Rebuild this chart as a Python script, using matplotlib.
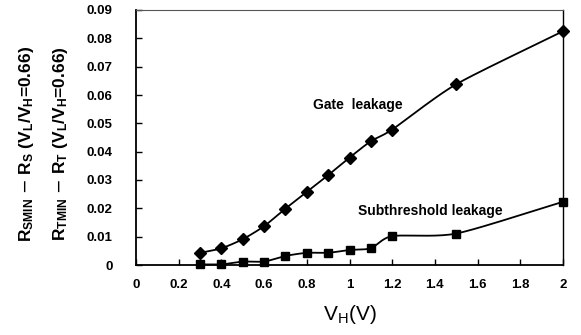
import numpy as np
import matplotlib
matplotlib.use("Agg")
import matplotlib.pyplot as plt

vh = [0.3, 0.4, 0.5, 0.6, 0.7, 0.8, 0.9, 1.0, 1.1, 1.2, 1.5, 2.0]
gate = [0.0043, 0.0059, 0.0091, 0.0137, 0.0199, 0.0258, 0.0317, 0.0379, 0.0437, 0.0478, 0.0638, 0.0825]
sub = [0.0002, 0.0002, 0.0012, 0.0012, 0.0032, 0.0043, 0.0043, 0.0053, 0.0059, 0.0102, 0.0111, 0.0223]
xticks = [0, 0.2, 0.4, 0.6, 0.8, 1, 1.2, 1.4, 1.6, 1.8, 2]
xticklabels = ["0", "0.2", "0.4", "0.6", "0.8", "1", "1.2", "1.4", "1.6", "1.8", "2"]
yticks = [0, 0.01, 0.02, 0.03, 0.04, 0.05, 0.06, 0.07, 0.08, 0.09]
yticklabels = ["0", "0.01", "0.02", "0.03", "0.04", "0.05", "0.06", "0.07", "0.08", "0.09"]

plt.rcParams["font.family"] = ["Liberation Sans", "DejaVu Sans"]


def smooth(x, y, n=20, s=0.12):
    # Bezier smoothing through points (like Excel smoothed lines)
    x = np.asarray(x, float); y = np.asarray(y, float)
    px = np.concatenate([[2 * x[0] - x[1]], x, [2 * x[-1] - x[-2]]])
    py = np.concatenate([[2 * y[0] - y[1]], y, [2 * y[-1] - y[-2]]])
    xs, ys = [], []
    t = np.linspace(0, 1, n, endpoint=False)
    for i in range(1, len(px) - 2):
        p0x, p1x, p2x, p3x = px[i - 1:i + 3]
        p0y, p1y, p2y, p3y = py[i - 1:i + 3]
        c1x = p1x + (p2x - p0x) * s; c1y = p1y + (p2y - p0y) * s
        c2x = p2x - (p3x - p1x) * s; c2y = p2y - (p3y - p1y) * s
        bx = (1 - t) ** 3 * p1x + 3 * (1 - t) ** 2 * t * c1x + 3 * (1 - t) * t ** 2 * c2x + t ** 3 * p2x
        by = (1 - t) ** 3 * p1y + 3 * (1 - t) ** 2 * t * c1y + 3 * (1 - t) * t ** 2 * c2y + t ** 3 * p2y
        xs.extend(bx); ys.extend(by)
    xs.append(x[-1]); ys.append(y[-1])
    return np.array(xs), np.array(ys)


fig = plt.figure(figsize=(5.81, 3.35), dpi=100)
ax = fig.add_axes([136 / 581, 1 - 265 / 335, (563 - 136) / 581, (265 - 10) / 335])

gx, gy = smooth(vh, gate)
sx, sy = smooth(vh, sub)
ax.plot(gx, gy, color="black", lw=1.3, clip_on=False)
ax.plot(sx, sy, color="black", lw=1.3, clip_on=False)
ax.plot(vh, gate, linestyle="none", marker="D", ms=6, color="black", clip_on=False, zorder=5)
ax.plot(vh, sub, linestyle="none", marker="s", ms=6, color="black", clip_on=False, zorder=5)

ax.set_xlim(0, 2)
ax.set_ylim(0, 0.09)
ax.set_xticks(xticks)
ax.set_xticklabels(xticklabels, fontsize=9.5, fontweight="bold")
ax.set_yticks(yticks)
ax.set_yticklabels(yticklabels, fontsize=9.5, fontweight="bold")
ax.tick_params(axis="both", direction="in", length=4, width=1)
ax.tick_params(axis="x", pad=10)
ax.tick_params(axis="y", pad=17)

for s in ["left", "bottom"]:
    ax.spines[s].set_linewidth(1.3)
ax.spines["right"].set_linewidth(1.0)
ax.spines["top"].set_linewidth(0.8)
ax.spines["top"].set_linestyle((0, (1, 1)))
ax.spines["top"].set_color("#555555")

ax.text(0.83, 0.0565, "Gate  leakage", fontsize=10, fontweight="bold", ha="left", va="center")
ax.text(1.04, 0.0192, "Subthreshold leakage", fontsize=10, fontweight="bold", ha="left", va="center")

ax.set_xlabel(r"$\mathregular{V_H}$(V)", fontsize=15, labelpad=9)
fig.text(27 / 581, 0.57, r"R$\mathregular{_{SMIN}}$ $-$ R$\mathregular{_S}$ (V$\mathregular{_L}$/V$\mathregular{_H}$=0.66)",
         rotation=90, ha="center", va="center", fontsize=12.5, fontweight="bold")
fig.text(60 / 581, 0.57, r"R$\mathregular{_{TMIN}}$ $-$ R$\mathregular{_T}$ (V$\mathregular{_L}$/V$\mathregular{_H}$=0.66)",
         rotation=90, ha="center", va="center", fontsize=12.5, fontweight="bold")

fig.savefig("out.png", dpi=100)
